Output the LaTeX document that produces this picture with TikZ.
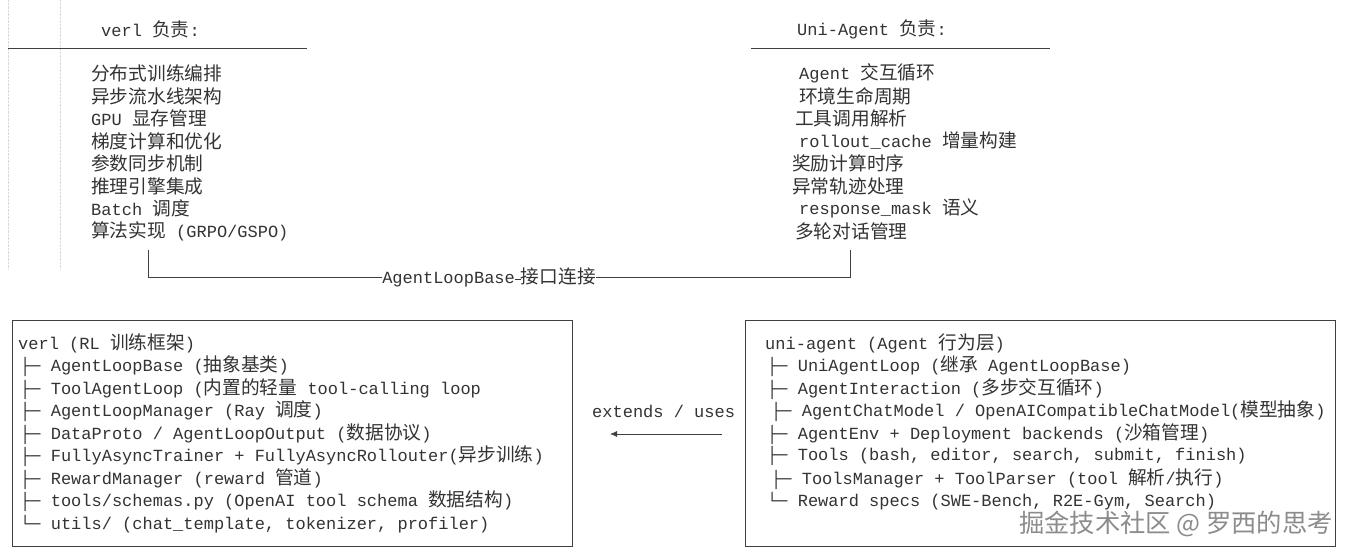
\documentclass[tikz,border=0pt]{standalone}
\usepackage{fontspec}
\setmonofont{Liberation Mono}
\newfontfamily\cjk{Noto Sans CJK SC}[Scale=1.1]
\newcommand{\zh}[1]{{\cjk #1}}
\usetikzlibrary{arrows.meta}
\begin{document}
\begin{tikzpicture}[x=1pt,y=-1pt,
  t/.style={anchor=west,inner sep=0pt,font=\ttfamily\fontsize{17}{20}\selectfont,text=black!80},
  bx/.style={draw=black!75,line width=0.8pt},
  ln/.style={draw=black!75,line width=0.8pt}]
\useasboundingbox (0,0) rectangle (1350,557);
\fill[white] (0,0) rectangle (1350,557);
\draw[black!15,densely dotted] (8,0) -- (8,270);
\draw[black!15,densely dotted] (60,0) -- (60,270);
% top left
\node[t] (hl) at (101,29) {verl \zh{负责}:};
\draw[ln] (8,48) -- (307,48);
\node[t] (l1) at (91,73) {\zh{分布式训练编排}};
\node[t] (l2) at (91,96) {\zh{异步流水线架构}};
\node[t] (l3) at (91,118) {GPU \zh{显存管理}};
\node[t] (l4) at (91,141) {\zh{梯度计算和优化}};
\node[t] (l5) at (91,163) {\zh{参数同步机制}};
\node[t] (l6) at (91,186) {\zh{推理引擎集成}};
\node[t] (l7) at (91,208) {Batch \zh{调度}};
\node[t] (l8) at (91,231) {\zh{算法实现} (GRPO/GSPO)};
% top right
\node[t] (hr) at (797,29) {Uni-Agent \zh{负责}:};
\draw[ln] (751,48) -- (1050,48);
\node[t] (r1) at (799,73) {Agent \zh{交互循环}};
\node[t] (r2) at (799,96) {\zh{环境生命周期}};
\node[t] (r3) at (795,118) {\zh{工具调用解析}};
\node[t] (r4) at (799,141) {rollout\_cache \zh{增量构建}};
\node[t] (r5) at (792,163) {\zh{奖励计算时序}};
\node[t] (r6) at (792,186) {\zh{异常轨迹处理}};
\node[t] (r7) at (799,208) {response\_mask \zh{语义}};
\node[t] (r8) at (795,231) {\zh{多轮对话管理}};
% connector
\node[t,anchor=center] (lk) at (489,277) {AgentLoopBase\raisebox{0.35ex}{\rule{6pt}{0.8pt}}\zh{接口连接}};
\coordinate (c1) at (148,250);
\coordinate (c2) at (850,250);
\draw[ln] (c1) |- (lk.west);
\draw[ln] (c2) |- (lk.east);
% bottom left box
\draw[bx] (12,320) rectangle (572,546);
\node[t] (v0) at (18,343) {verl (RL \zh{训练框架})};
\node[t] (v1) at (20,366) {├─ AgentLoopBase (\zh{抽象基类})};
\node[t] (v2) at (20,389) {├─ ToolAgentLoop (\zh{内置的轻量} tool-calling loop};
\node[t] (v3) at (20,411) {├─ AgentLoopManager (Ray \zh{调度})};
\node[t] (v4) at (20,434) {├─ DataProto / AgentLoopOutput (\zh{数据协议})};
\node[t] (v5) at (20,456) {├─ FullyAsyncTrainer + FullyAsyncRollouter(\zh{异步训练})};
\node[t] (v6) at (20,479) {├─ RewardManager (reward \zh{管道})};
\node[t] (v7) at (20,501) {├─ tools/schemas.py (OpenAI tool schema \zh{数据结构})};
\node[t] (v8) at (20,524) {└─ utils/ (chat\_template, tokenizer, profiler)};
% bottom right box
\draw[bx] (745,320) rectangle (1335,546);
\node[t] (u0) at (765,343) {uni-agent (Agent \zh{行为层})};
\node[t] (u1) at (767,366) {├─ UniAgentLoop (\zh{继承} AgentLoopBase)};
\node[t] (u2) at (767,389) {├─ AgentInteraction (\zh{多步交互循环})};
\node[t] (u3) at (771,411) {├─ AgentChatModel / OpenAICompatibleChatModel(\zh{模型抽象})};
\node[t] (u4) at (767,434) {├─ AgentEnv + Deployment backends (\zh{沙箱管理})};
\node[t] (u5) at (767,456) {├─ Tools (bash, editor, search, submit, finish)};
\node[t] (u6) at (771,479) {├─ ToolsManager + ToolParser (tool \zh{解析}/\zh{执行})};
\node[t] (u7) at (767,501) {└─ Reward specs (SWE-Bench, R2E-Gym, Search)};
% extends
\node[t] (ex) at (592,411) {extends / uses};
\coordinate (a1) at (722,434);
\coordinate (a2) at (610,434);
\draw[ln,-{Latex[length=7pt,width=6pt]}] (a1) -- (a2);
% watermark
\node[anchor=east,inner sep=0pt,font=\cjk\fontsize{23}{25}\selectfont,text=black!45] (wm) at (1333,524) {掘金技术社区 @ 罗西的思考};
\end{tikzpicture}
\end{document}
